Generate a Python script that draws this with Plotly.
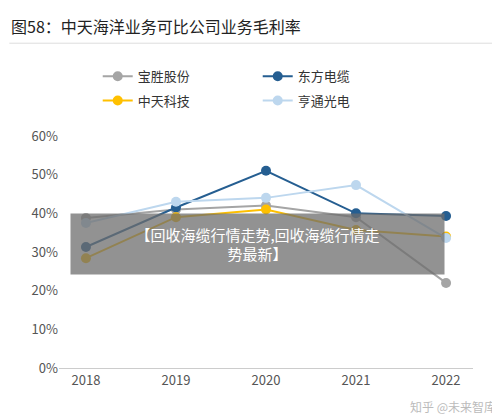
import plotly.graph_objects as go

years = ["2018", "2019", "2020", "2021", "2022"]
baosheng = [38.8, 41.0, 42.0, 39.0, 22.0]
dongfang = [31.3, 41.5, 51.0, 40.0, 39.3]
zhongtian = [28.4, 39.0, 41.0, 35.7, 34.0]
hengtong = [37.5, 43.0, 44.0, 47.3, 33.6]

series = [
    ("宝胜股份", baosheng, "#a5a5a5", "legend"),
    ("东方电缆", dongfang, "#255e91", "legend"),
    ("中天科技", zhongtian, "#ffc000", "legend2"),
    ("亨通光电", hengtong, "#bdd7ee", "legend2"),
]

fig = go.Figure()
for name, vals, color, lg in series:
    fig.add_trace(go.Scatter(
        x=years, y=vals, name=name, mode="lines+markers", legend=lg,
        line=dict(color=color, width=2), marker=dict(size=10, color=color),
    ))

fig.add_annotation(text="图58：中天海洋业务可比公司业务毛利率", xref="paper", yref="paper",
                   x=-0.12, y=1.475, xanchor="left", yanchor="middle", showarrow=False,
                   font=dict(size=16, color="#222"))
fig.add_shape(type="line", xref="paper", yref="paper", x0=-0.12, x1=1.1, y0=1.4, y1=1.4,
              line=dict(color="#dddddd", width=1))
fig.add_annotation(text="【回收海缆行情走势,回收海缆行情走<br>势最新】", xref="paper", yref="paper",
                   x=0.48, y=0.668, showarrow=False, bgcolor="rgba(110,110,110,0.75)",
                   font=dict(size=15, color="white", family="Noto Sans CJK SC"),
                   width=371, height=58)
fig.add_annotation(text="知乎 @未来智库", xref="paper", yref="paper", x=1.06, y=-0.164,
                   xanchor="right", yanchor="middle", showarrow=False,
                   font=dict(size=12, color="#bbb"))

lgd = dict(orientation="h", x=0.48, xanchor="center", yanchor="middle",
           entrywidth=115, font=dict(size=13, color="#333"))
fig.update_layout(
    width=500, height=419, plot_bgcolor="white", paper_bgcolor="white",
    margin=dict(l=51, r=35, t=128, b=59),
    font=dict(family="Noto Sans CJK SC", size=12, color="#555"),
    legend=dict(lgd, y=1.257),
    legend2=dict(lgd, y=1.153),
    xaxis=dict(showline=True, linecolor="#ccc", ticks="", tickfont=dict(size=13)),
    yaxis=dict(range=[0, 60], dtick=10, ticksuffix="%", showgrid=False, zeroline=False,
               tickfont=dict(size=13)),
)

fig.write_html("out.html")
